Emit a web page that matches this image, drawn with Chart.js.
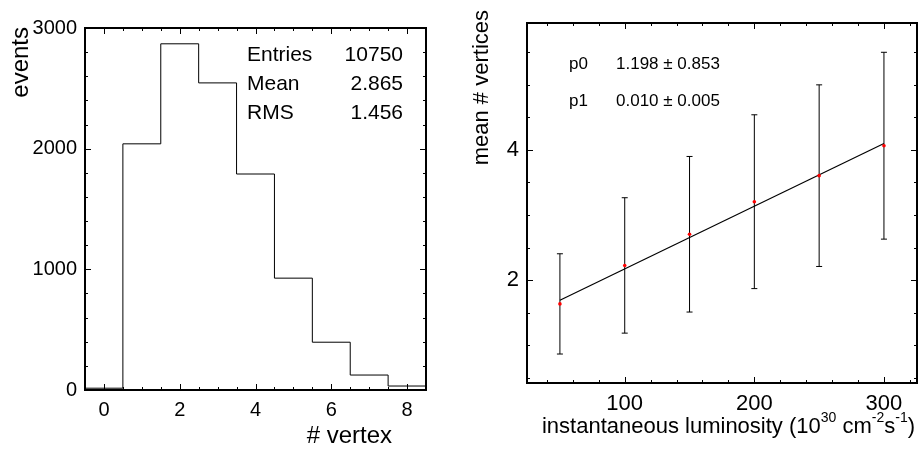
<!DOCTYPE html>
<html>
<head>
<meta charset="utf-8">
<script src="https://cdn.jsdelivr.net/npm/chart.js@4.4.1/dist/chart.umd.min.js"></script>
<style>
    body { margin: 0; background: #fff; width: 922px; height: 449px; overflow: hidden; position: relative; }
    #histChart { position: absolute; left: 0; top: 0; }
    #lumChart { position: absolute; left: 460px; top: 0; }
</style>
</head>
<body>
<canvas id="histChart" width="460" height="449"></canvas>
<canvas id="lumChart" width="462" height="449"></canvas>
<script>
// left panel: number of vertices per event
const vertexBins = [0, 1, 2, 3, 4, 5, 6, 7, 8];
const vertexCounts = [15, 2040, 2869, 2545, 1790, 927, 396, 124, 33];
const histStatNames = ['Entries', 'Mean', 'RMS'];
const histStatValues = ['10750', '2.865', '1.456'];

// right panel: mean number of vertices vs luminosity
const lumi = [50, 100, 150, 200, 250, 300];
const meanVtx = [1.635, 2.226, 2.705, 3.205, 3.605, 4.065];
const meanVtxErr = [0.77, 1.04, 1.195, 1.335, 1.395, 1.435];
const fitX = [50, 300];
const fitY = [1.69, 4.10];
const fitNames = ['p0', 'p1'];
const fitValues = ['1.198 \u00b1 0.853', '0.010 \u00b1 0.005'];

const FONT = "'Liberation Sans', Arial, sans-serif";
Chart.defaults.font.family = FONT;
Chart.defaults.color = '#000';

function isMult(v, m) {
    const r = v / m;
    return Math.abs(r - Math.round(r)) < 1e-6;
}

// ROOT style ticks pointing into the frame
const innerTicks = {
    id: 'innerTicks',
    afterDatasetsDraw(chart, args, opts) {
        const ctx = chart.ctx;
        const a = chart.chartArea;
        ctx.save();
        ctx.strokeStyle = '#000';
        ctx.lineWidth = 1;
        Object.values(chart.scales).forEach(s => {
            const major = opts.major[s.axis];
            s.ticks.forEach(t => {
                const len = isMult(t.value, major) ? 6 : 3;
                const p = Math.round(s.getPixelForValue(t.value)) + 0.5;
                ctx.beginPath();
                if (s.position === 'bottom') { ctx.moveTo(p, a.bottom); ctx.lineTo(p, a.bottom - len); }
                else if (s.position === 'top') { ctx.moveTo(p, a.top); ctx.lineTo(p, a.top + len); }
                else if (s.position === 'left') { ctx.moveTo(a.left, p); ctx.lineTo(a.left + len, p); }
                else { ctx.moveTo(a.right, p); ctx.lineTo(a.right - len, p); }
                ctx.stroke();
            });
        });
        ctx.restore();
    }
};

// free text: axis titles and the stat / fit boxes
const labels = {
    id: 'labels',
    afterDraw(chart, args, opts) {
        const ctx = chart.ctx;
        ctx.save();
        ctx.fillStyle = '#000';
        opts.draw(ctx, chart.chartArea);
        ctx.restore();
    }
};

function axis(pos, min, max, step, major, size, tickSize, showLabels) {
    return {
        type: 'linear',
        position: pos,
        min: min,
        max: max,
        ticks: {
            display: showLabels,
            stepSize: step,
            includeBounds: false,
            autoSkip: false,
            maxRotation: 0,
            padding: 8,
            font: { size: tickSize },
            callback: v => isMult(v, major) ? String(Math.round(v)) : ''
        },
        grid: { display: false, drawTicks: false },
        border: { display: true, color: '#000', width: 2 },
        afterFit: s => {
            if (pos === 'left' || pos === 'right') s.width = size; else s.height = size;
        }
    };
}

// ---- histogram ----
const histStep = vertexBins.map((b, i) => ({ x: b - 0.5, y: vertexCounts[i] }));
histStep.push({ x: vertexBins[vertexBins.length - 1] + 0.5, y: vertexCounts[vertexCounts.length - 1] });

new Chart(document.getElementById('histChart'), {
    type: 'line',
    data: {
        datasets: [{
            data: histStep,
            stepped: 'before',
            borderColor: '#000',
            borderWidth: 1,
            pointRadius: 0,
            fill: false
        }]
    },
    options: {
        responsive: false,
        animation: false,
        devicePixelRatio: 1,
        layout: { padding: 0 },
        plugins: {
            legend: { display: false },
            tooltip: { enabled: false },
            innerTicks: { major: { x: 2, y: 1000 } },
            labels: {
                draw(ctx, a) {
                    ctx.font = '24px ' + FONT;
                    ctx.textAlign = 'right';
                    ctx.textBaseline = 'alphabetic';
                    ctx.fillText('# vertex', 392, 443);
                    ctx.save();
                    ctx.translate(28, 27);
                    ctx.rotate(-Math.PI / 2);
                    ctx.fillText('events', 0, 0);
                    ctx.restore();
                    ctx.font = '21px ' + FONT;
                    histStatNames.forEach((n, i) => {
                        ctx.textAlign = 'left';
                        ctx.fillText(n, 247, 61 + i * 29);
                        ctx.textAlign = 'right';
                        ctx.fillText(histStatValues[i], 403, 61 + i * 29);
                    });
                }
            }
        },
        scales: {
            x: axis('bottom', -0.5, 8.5, 0.5, 2, 59, 20, true),
            x2: axis('top', -0.5, 8.5, 0.5, 2, 28, 20, false),
            y: axis('left', 0, 3000, 200, 1000, 85, 20, true),
            y2: axis('right', 0, 3000, 200, 1000, 34, 20, false)
        }
    },
    plugins: [innerTicks, labels]
});

// ---- mean vertices vs luminosity ----
const points = lumi.map((x, i) => ({ x: x, y: meanVtx[i] }));
const caps = [];
const bars = [];
lumi.forEach((x, i) => {
    caps.push({ x: x, y: meanVtx[i] - meanVtxErr[i] }, { x: x, y: meanVtx[i] + meanVtxErr[i] });
    bars.push({ x: x, y: meanVtx[i] - meanVtxErr[i] }, { x: x, y: meanVtx[i] + meanVtxErr[i] }, { x: x, y: null });
});
const fitLine = fitX.map((x, i) => ({ x: x, y: fitY[i] }));

new Chart(document.getElementById('lumChart'), {
    type: 'scatter',
    data: {
        datasets: [
            { data: points, pointRadius: 1.8, pointBackgroundColor: '#ff0000', pointBorderWidth: 0 },
            { data: caps, pointStyle: 'line', pointRadius: 3, pointBorderColor: '#000', pointBorderWidth: 1 },
            { data: bars, showLine: true, spanGaps: false, borderColor: '#000', borderWidth: 1, pointRadius: 0 },
            { data: fitLine, showLine: true, borderColor: '#000', borderWidth: 1.2, pointRadius: 0 }
        ]
    },
    options: {
        responsive: false,
        animation: false,
        devicePixelRatio: 1,
        layout: { padding: 0 },
        plugins: {
            legend: { display: false },
            tooltip: { enabled: false },
            innerTicks: { major: { x: 100, y: 2 } },
            labels: {
                draw(ctx, a) {
                    ctx.textBaseline = 'alphabetic';
                    ctx.font = '22px ' + FONT;
                    ctx.textAlign = 'right';
                    ctx.save();
                    ctx.translate(28, 10);
                    ctx.rotate(-Math.PI / 2);
                    ctx.fillText('mean # vertices', 0, 0);
                    ctx.restore();

                    // x title with superscripts, right aligned
                    const big = '22px ' + FONT, small = '14px ' + FONT;
                    const parts = [
                        ['instantaneous luminosity (10', big, 0], ['30', small, -11],
                        [' cm', big, 0], ['-2', small, -11],
                        ['s', big, 0], ['-1', small, -11], [')', big, 0]
                    ];
                    let w = 0;
                    parts.forEach(p => { ctx.font = p[1]; w += ctx.measureText(p[0]).width; });
                    let x = 455 - w;
                    ctx.textAlign = 'left';
                    parts.forEach(p => {
                        ctx.font = p[1];
                        ctx.fillText(p[0], x, 433 + p[2]);
                        x += ctx.measureText(p[0]).width;
                    });

                    ctx.font = '17px ' + FONT;
                    fitNames.forEach((n, i) => {
                        ctx.fillText(n, 109, 69 + i * 37);
                        ctx.fillText(fitValues[i], 156, 69 + i * 37);
                    });
                }
            }
        },
        scales: {
            x: axis('bottom', 24.6, 325.5, 20, 100, 66, 22, true),
            x2: axis('top', 24.6, 325.5, 20, 100, 23, 22, false),
            y: axis('left', 0.42, 5.95, 0.5, 2, 67, 22, true),
            y2: axis('right', 0.42, 5.95, 0.5, 2, 5, 22, false)
        }
    },
    plugins: [innerTicks, labels]
});
</script>
</body>
</html>
